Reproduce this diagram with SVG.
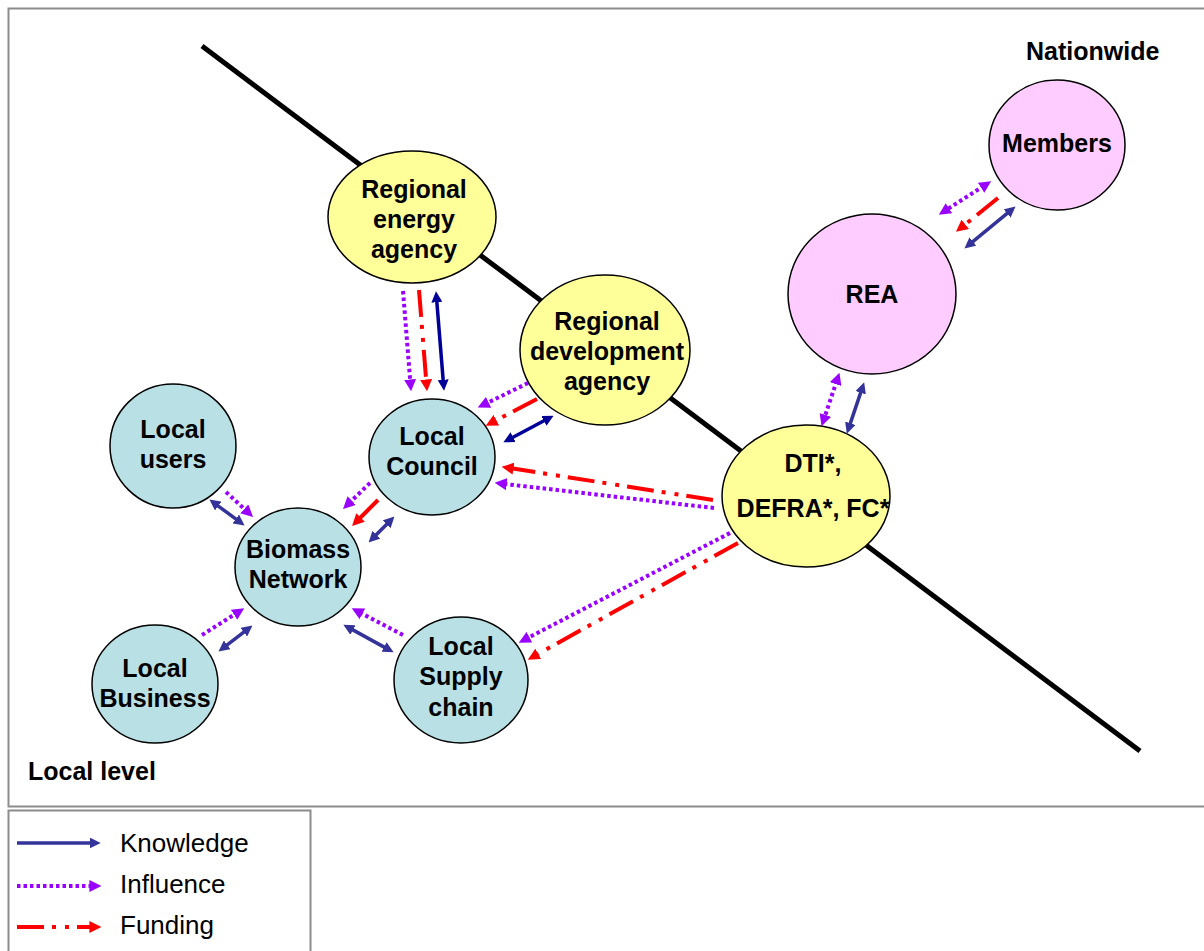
<svg xmlns="http://www.w3.org/2000/svg" width="1204" height="951" viewBox="0 0 1204 951">
<style>
.frame{fill:#fff;stroke:#8c8c8c;stroke-width:2}
.node{stroke:#000;stroke-width:1.5}
.blue{fill:#B9E0E4}
.yellow{fill:#FFFF99}
.pink{fill:#FFCCFF}
.lbl{font-family:"Liberation Sans",Arial,sans-serif;font-weight:bold;font-size:25px;fill:#000;text-anchor:middle}
.head{font-family:"Liberation Sans",Arial,sans-serif;font-weight:bold;font-size:25px;fill:#000}
.leg{font-family:"Liberation Sans",Arial,sans-serif;font-size:26px;fill:#000}
.k{stroke:#333399;stroke-width:3.5;fill:none;marker-end:url(#mk);marker-start:url(#mk)}
.kn{stroke:#000099;stroke-width:3.5;fill:none;marker-end:url(#mkn);marker-start:url(#mkn)}
.i{stroke:#9900FF;stroke-width:4;stroke-dasharray:3.5 3;fill:none;marker-end:url(#mi)}
.i2{marker-start:url(#mi)}
.f{stroke:#FF0000;stroke-width:4;stroke-dasharray:27 8 4 9 4 8;fill:none;marker-end:url(#mf)}
.fs{stroke:#FF0000;stroke-width:4;fill:none;marker-end:url(#mf)}
</style>
<defs>
<marker id="mk" markerUnits="userSpaceOnUse" viewBox="0 0 10 10" markerWidth="11" markerHeight="11" refX="3" refY="5" orient="auto-start-reverse"><path d="M0,0 L10,5 L0,10 z" fill="#333399"/></marker>
<marker id="mkn" markerUnits="userSpaceOnUse" viewBox="0 0 10 10" markerWidth="11" markerHeight="11" refX="3" refY="5" orient="auto-start-reverse"><path d="M0,0 L10,5 L0,10 z" fill="#000099"/></marker>
<marker id="mi" markerUnits="userSpaceOnUse" viewBox="0 0 10 10" markerWidth="12" markerHeight="12" refX="3" refY="5" orient="auto-start-reverse"><path d="M0,0 L10,5 L0,10 z" fill="#9900FF"/></marker>
<marker id="mf" markerUnits="userSpaceOnUse" viewBox="0 0 10 10" markerWidth="12" markerHeight="12" refX="3" refY="5" orient="auto-start-reverse"><path d="M0,0 L10,5 L0,10 z" fill="#FF0000"/></marker>
</defs>
<rect width="1204" height="951" fill="#fff"/>
<rect class="frame" x="8.5" y="8.5" width="1210" height="798"/>
<rect class="frame" x="8.5" y="810.5" width="302" height="160"/>
<line x1="202" y1="46" x2="1140" y2="751" stroke="#000" stroke-width="5"/>
<text class="head" x="1026" y="60">Nationwide</text>
<text class="head" x="28" y="780">Local level</text>

<g id="n-rea-energy"><ellipse class="node yellow" cx="412" cy="217" rx="84" ry="66"/><text class="lbl" x="414" y="198">Regional</text><text class="lbl" x="414" y="228">energy</text><text class="lbl" x="414" y="258">agency</text></g>
<g id="n-rda"><ellipse class="node yellow" cx="605" cy="350" rx="85" ry="75"/><text class="lbl" x="607" y="330">Regional</text><text class="lbl" x="607" y="360">development</text><text class="lbl" x="607" y="390">agency</text></g>
<g id="n-members"><ellipse class="node pink" cx="1057" cy="145" rx="68" ry="65"/><text class="lbl" x="1057" y="152">Members</text></g>
<g id="n-rea"><ellipse class="node pink" cx="872" cy="294" rx="84" ry="80"/><text class="lbl" x="872" y="303">REA</text></g>
<g id="n-dti"><ellipse class="node yellow" cx="806" cy="496" rx="84" ry="71"/><text class="lbl" x="813" y="472">DTI*,</text><text class="lbl" x="813" y="517">DEFRA*, FC*</text></g>
<g id="n-council"><ellipse class="node blue" cx="432" cy="457" rx="63" ry="58"/><text class="lbl" x="432" y="445">Local</text><text class="lbl" x="432" y="475">Council</text></g>
<g id="n-users"><ellipse class="node blue" cx="173" cy="446" rx="63" ry="62"/><text class="lbl" x="173" y="438">Local</text><text class="lbl" x="173" y="468">users</text></g>
<g id="n-biomass"><ellipse class="node blue" cx="298" cy="567" rx="63" ry="59"/><text class="lbl" x="298" y="558">Biomass</text><text class="lbl" x="298" y="588">Network</text></g>
<g id="n-business"><ellipse class="node blue" cx="155" cy="684" rx="63" ry="59"/><text class="lbl" x="155" y="677">Local</text><text class="lbl" x="155" y="707">Business</text></g>
<g id="n-supply"><ellipse class="node blue" cx="461" cy="680" rx="67" ry="63"/><text class="lbl" x="461" y="655">Local</text><text class="lbl" x="461" y="685">Supply</text><text class="lbl" x="461" y="716">chain</text></g>

<g id="connectors">
<line class="i" x1="403" y1="291" x2="410.4" y2="383"/>
<line class="f" x1="419" y1="290" x2="426.4" y2="383"/>
<line class="kn" x1="436.6" y1="299" x2="443.4" y2="383"/>
<line class="i" x1="528" y1="383" x2="485.3" y2="403.9"/>
<line class="f" x1="537" y1="399" x2="493.2" y2="421.8"/>
<line class="kn" x1="546.8" y1="419.3" x2="510.2" y2="438.7"/>
<line class="f" x1="713" y1="500" x2="509.9" y2="468.1"/>
<line class="i" x1="714" y1="508" x2="503" y2="483.8"/>
<line class="i" x1="730" y1="533" x2="526.2" y2="638.8"/>
<line class="f" x1="738" y1="543" x2="535.1" y2="655.6"/>
<line class="i i2" x1="836.8" y1="380.6" x2="824.2" y2="418.4"/>
<line class="k" x1="861.7" y1="389.6" x2="849.3" y2="426.4"/>
<line class="i i2" x1="984.1" y1="185.8" x2="945.9" y2="210.2"/>
<line class="f" x1="998" y1="198" x2="962.5" y2="226.6"/>
<line class="k" x1="1009.6" y1="211.4" x2="970.4" y2="243.6"/>
<line class="i" x1="370" y1="483" x2="349.1" y2="503.1"/>
<line class="fs" x1="378" y1="500" x2="358" y2="520"/>
<line class="k" x1="389" y1="522" x2="374" y2="537"/>
<line class="i" x1="226" y1="492" x2="246.9" y2="511.3"/>
<line class="k" x1="215.6" y1="504.1" x2="238.4" y2="520.9"/>
<line class="i" x1="202" y1="635" x2="237.1" y2="612.8"/>
<line class="k" x1="224.6" y1="646.8" x2="246.4" y2="630.2"/>
<line class="i" x1="403" y1="635" x2="359.2" y2="612.2"/>
<line class="k" x1="386.9" y1="648.6" x2="350.1" y2="628.4"/>
</g>

<g id="legend">
<line x1="17" y1="843" x2="93" y2="843" stroke="#333399" stroke-width="3.5" marker-end="url(#mk)"/>
<text class="leg" x="120" y="852">Knowledge</text>
<line class="i" x1="17" y1="886" x2="93" y2="886"/>
<text class="leg" x="120" y="893">Influence</text>
<line class="f" x1="17" y1="927" x2="93" y2="927"/>
<text class="leg" x="120" y="934">Funding</text>
</g>
</svg>
